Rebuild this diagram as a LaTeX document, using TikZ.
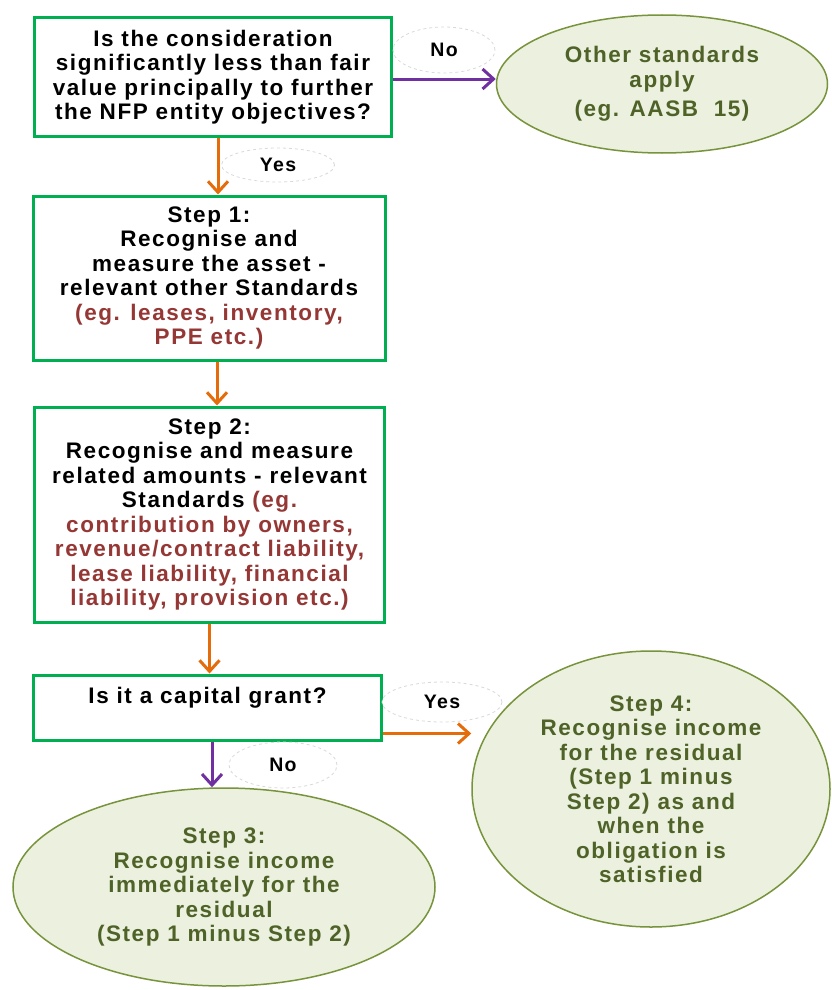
\documentclass[tikz,border=0pt]{standalone}
\usepackage{fontspec}
\setmainfont{Liberation Sans}[LetterSpace=7]
\usetikzlibrary{shapes.geometric,arrows.meta}
\definecolor{boxgreen}{RGB}{0,176,80}
\definecolor{boxred}{RGB}{149,55,53}
\definecolor{ovalfill}{RGB}{235,241,222}
\definecolor{ovalline}{RGB}{119,147,60}
\definecolor{ovaltext}{RGB}{79,98,40}
\definecolor{arrorange}{RGB}{228,108,10}
\definecolor{arrpurple}{RGB}{112,48,160}

\begin{document}
\begin{tikzpicture}[x=1pt,y=-1pt,line width=3pt,>={Straight Barb[length=11pt,width=20pt]},
  font=\fontsize{22.5}{24.5}\selectfont\bfseries,
  qbox/.style={draw=boxgreen,fill=white,align=center,inner sep=0pt},
  oval/.style={ellipse,draw=ovalline,line width=1.5pt,fill=ovalfill,text=ovaltext,align=center,inner sep=0pt},
  tag/.style={ellipse,draw=gray!30,dashed,line width=0.8pt,fill=white,font=\fontsize{19.5}{21}\selectfont\bfseries}]
  \useasboundingbox (0,0) rectangle (832,990);
  % questions and steps
  \node[qbox,minimum width=357pt,minimum height=118pt] (q1) at (213,77)
    {Is the consideration\\significantly less than fair\\value principally to further\\the NFP entity objectives?};
  \node[qbox,minimum width=352pt,minimum height=164pt] (s1) at (209,278)
    {Step 1:\\Recognise and\\measure the asset -\\relevant other Standards\\\textcolor{boxred}{(eg. leases, inventory,}\\\textcolor{boxred}{PPE etc.)}};
  \node[qbox,minimum width=350pt,minimum height=215pt] (s2) at (209.5,514.5)
    {Step 2:\\Recognise and measure\\related amounts - relevant\\Standards \textcolor{boxred}{(eg.}\\\textcolor{boxred}{contribution by owners,}\\\textcolor{boxred}{revenue/contract liability,}\\\textcolor{boxred}{lease liability, financial}\\\textcolor{boxred}{liability, provision etc.)}};
  \node[qbox,minimum width=348pt,minimum height=65pt] (grant) at (207.5,707.5)
    {Is it a capital grant?\\\mbox{}};
  % outcomes
  \node[oval,minimum width=331pt,minimum height=138pt] (other) at (662,84)
    {Other standards\\apply\\[5pt](eg. AASB\ \ 15)};
  \node[oval,minimum width=358pt,minimum height=276pt] (s4) at (651,789)
    {Step 4:\\Recognise income\\for the residual\\(Step 1 minus\\Step 2) as and\\when the\\obligation is\\satisfied};
  \node[oval,minimum width=422pt,minimum height=198pt] (s3) at (224,887)
    {Step 3:\\Recognise income\\immediately for the\\residual\\(Step 1 minus Step 2)};
  % answer tags
  \node[tag,minimum width=102pt,minimum height=46pt] (tno1) at (444,50) {No};
  \node[tag,minimum width=113pt,minimum height=34pt] (tyes1) at (278,165) {Yes};
  \node[tag,minimum width=120pt,minimum height=40pt] (tyes2) at (442,702) {Yes};
  \node[tag,minimum width=108pt,minimum height=46pt] (tno2) at (283,765) {No};
  % connectors
  \draw[->,arrpurple] ([yshift=-2pt]q1.east) -- ([yshift=-2pt]q1.east -| other.west);
  \draw[->,arrorange] ([xshift=5pt]q1.south) -- ([xshift=5pt]q1.south |- s1.north);
  \draw[->,arrorange] ([xshift=8pt]s1.south) -- ([xshift=8pt]s1.south |- s2.north);
  \draw[->,arrorange] (s2.south) -- (s2.south |- grant.north);
  \draw[->,arrorange] ([yshift=-26pt]grant.east) -- ([yshift=-26pt]grant.east -| s4.west);
  \draw[->,arrpurple] ([xshift=4.5pt]grant.south) -- ([xshift=4.5pt]grant.south |- s3.north);
\end{tikzpicture}
\end{document}
